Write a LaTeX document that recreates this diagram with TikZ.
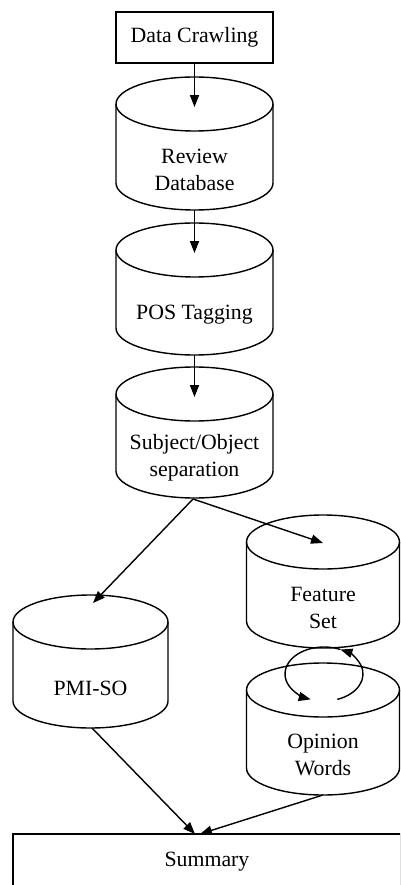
\documentclass[tikz,border=0pt]{standalone}
\usepackage{fontspec}
\setmainfont{Liberation Serif}
\usetikzlibrary{arrows.meta}
\newcommand\cylshape[5]{% cx, top, bottom, rx, ry
  \draw (#1-#4,#2+#5) -- (#1-#4,#3-#5)
    arc[start angle=180,end angle=0,x radius=#4,y radius=#5] -- (#1+#4,#2+#5);
  \draw (#1,#2+#5) ellipse[x radius=#4,y radius=#5];}
\begin{document}
\begin{tikzpicture}[x=0.025cm,y=-0.025cm,line width=1pt,
  lbl/.style={font=\fontsize{15.5}{19.2}\selectfont,align=center,inner sep=0pt},
  boxnode/.style={lbl,draw},
  arr/.style={-{Triangle[length=8.5pt,width=6.5pt]}}]
\useasboundingbox (0,0) rectangle (400,885);
\clip (0,0) rectangle (400,885);

% top box
\node[boxnode,minimum width=3.925cm,minimum height=1.275cm] (dc) at (194.5,37.5) {Data Crawling};

% cylinders
\cylshape{194.5}{77}{210}{78.5}{27}
\node[lbl] (rd) at (194.5,170) {Review\\Database};
\cylshape{194.5}{223}{355}{78.5}{27}
\node[lbl] (pos) at (194.5,315) {POS Tagging};
\cylshape{194.5}{367}{498}{78.5}{27}
\node[lbl] (so) at (194.5,458) {Subject/Object\\separation};
\cylshape{323}{515}{648}{76.5}{27}
\node[lbl] (fs) at (323,608) {Feature\\Set};
\cylshape{90.5}{595}{728}{77.5}{27}
\node[lbl] (pmi) at (90.5,688) {PMI-SO};
\cylshape{323}{663}{795}{76.5}{27}
\node[lbl] (ow) at (323,755) {Opinion\\Words};

% summary box
\node[boxnode,minimum width=9.7cm,minimum height=1.4cm] (sum) at (207,862) {Summary};

% connector end points
\coordinate (rdtop) at (194.5,107);
\coordinate (rdbot) at (194.5,210);
\coordinate (postop) at (194.5,253);
\coordinate (posbot) at (194.5,355);
\coordinate (sotop) at (194.5,397);
\coordinate (sobot) at (193,499);
\coordinate (fstop) at (323,543);
\coordinate (pmitop) at (93,603);
\coordinate (pmibot) at (92,728);
\coordinate (owbot) at (323,795);
\coordinate (sumA) at (195,834);
\coordinate (sumB) at (200,834);

% connectors
\draw[arr] (dc.south) -- (rdtop);
\draw[arr] (rdbot) -- (postop);
\draw[arr] (posbot) -- (sotop);
\draw[arr] (sobot) -- (pmitop);
\draw[arr] (sobot) -- (fstop);
\draw[arr] (pmibot) -- (sumA);
\draw[arr] (owbot) -- (sumB);

% loop between Feature Set and Opinion Words
\coordinate (lc) at (324,674);
\draw[arr] (lc) ++(70:39 and 27) arc[start angle=70,end angle=-65,x radius=39,y radius=27];
\draw[arr] (lc) ++(-65:39 and 27) arc[start angle=-65,end angle=-250,x radius=39,y radius=27];
\end{tikzpicture}
\end{document}
